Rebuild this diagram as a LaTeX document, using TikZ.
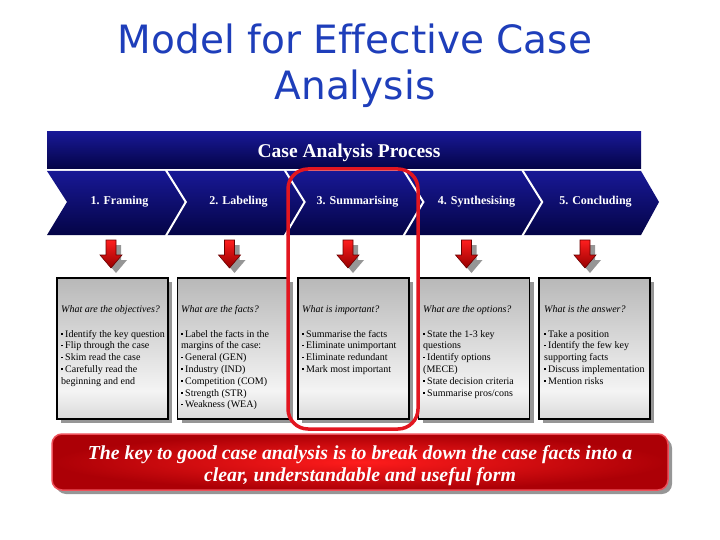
\documentclass[tikz,border=0pt]{standalone}
\usepackage{fontspec}
\setmainfont{Liberation Serif}
\newfontfamily\titlefont[Ligatures=NoCommon]{DejaVu Sans}
\usetikzlibrary{shadows}
\definecolor{titleblue}{RGB}{30,62,186}
\definecolor{navyA}{RGB}{24,24,150}
\definecolor{navyB}{RGB}{4,4,70}
\definecolor{boxtop}{RGB}{184,184,184}
\definecolor{boxmid}{RGB}{244,244,244}
\definecolor{boxbot}{RGB}{218,218,218}
\definecolor{hired}{RGB}{226,22,32}
\definecolor{banin}{RGB}{255,28,28}
\definecolor{banout}{RGB}{172,0,6}
\definecolor{banedge}{RGB}{238,80,90}
\definecolor{arrA}{RGB}{255,30,30}
\definecolor{arrB}{RGB}{150,0,0}
\definecolor{shad}{RGB}{150,150,150}
\pgfdeclareverticalshading{boxsh}{100bp}{color(0bp)=(boxbot); color(25bp)=(boxbot); color(35bp)=(boxmid); color(75bp)=(boxtop); color(100bp)=(boxtop)}
\newcommand\bl{\raisebox{2.4pt}{\rule{1.6pt}{1.6pt}}\hspace{2.4pt}}
\tikzset{
  titletxt/.style={font=\titlefont\fontsize{39}{47}\selectfont, text=titleblue, anchor=base, inner sep=0},
  hdrtxt/.style={font=\bfseries\fontsize{19.5}{21}\selectfont, text=white, inner sep=0},
  chevtxt/.style={font=\bfseries\fontsize{12}{14}\selectfont, text=white, inner sep=0},
  gbox/.style={draw=black, line width=1.8pt, shading=boxsh, minimum width=111, minimum height=141, inner sep=0,
    drop shadow={shadow xshift=4pt, shadow yshift=-4pt, fill=shad, opacity=1}},
  qtxt/.style={font=\itshape\fontsize{10}{12}\selectfont, anchor=base west, inner sep=0},
  btxt/.style={font=\fontsize{10}{12}\selectfont, anchor=base west, inner sep=0},
  hilite/.style={draw=hired, line width=3.5pt, rounded corners=20pt, minimum width=130, minimum height=260, inner sep=0},
  banner/.style={draw=banedge, line width=1.5pt, rounded corners=10pt, inner color=banin, outer color=banout,
    minimum width=616, minimum height=56, inner sep=0,
    drop shadow={shadow xshift=4pt, shadow yshift=-4pt, fill=shad, opacity=1}},
  bantxt/.style={text=white, align=center, inner sep=0, font=\bfseries\itshape\fontsize{19.8}{22}\selectfont},
  arrowshape/.style={top color=arrA, bottom color=arrB, draw=arrB!70!black, line width=0.6pt},
  arrowshadow/.style={fill=shad}
}
\newcommand\boxlines[4]{%
  \node[qtxt] (q#1) at (#2,312) {#3};
  \foreach \t [count=\k] in {#4} \node[btxt] (l#1-\k) at (#2,{337+11.8*(\k-1)}) {\t};
}
\begin{document}
\begin{tikzpicture}[x=1pt,y=-1pt]
\useasboundingbox (0,0) rectangle (720,540);
% title
\node[titletxt] (t1) at (355,54) {Model for Effective Case};
\node[titletxt] (t2) at (355,100) {Analysis};
% header
\shade[top color=navyA, bottom color=navyB] (47,132) rectangle (641,169);
\node[hdrtxt] (hdr) at (349,153) {Case Analysis Process};
% chevron band
\shade[top color=navyA, bottom color=navyB] (47,171) -- (641,171) -- (659,202) -- (641,235) -- (47,235) -- (67,202) -- cycle;
\foreach \k in {1,...,4} {
  \pgfmathsetmacro\dx{47+118.8*\k}
  \draw[white, line width=2pt] (\dx,170) -- ({\dx+20},202) -- (\dx,236);
}
\foreach \t [count=\k] in {1. Framing, 2. Labeling, 3. Summarising, 4. Synthesising, 5. Concluding}
  \node[chevtxt] (c\k) at ({119.5+119*(\k-1)},202) {\t};
% arrows
\foreach \k in {0,...,4} {
  \pgfmathsetmacro\cx{111+118.5*\k}
  \fill[arrowshadow, shift={(5,5)}] ({\cx-5},240) -- ({\cx+5},240) -- ({\cx+5},255) -- ({\cx+11},255) -- (\cx,268) -- ({\cx-11},255) -- ({\cx-5},255) -- cycle;
  \shade[arrowshape] ({\cx-5},240) -- ({\cx+5},240) -- ({\cx+5},255) -- ({\cx+11},255) -- (\cx,268) -- ({\cx-11},255) -- ({\cx-5},255) -- cycle;
}
% boxes
\foreach \k in {1,...,5}
  \node[gbox] (b\k) at ({112.5+120.5*(\k-1)},348.5) {};
\boxlines{1}{61}{What are the objectives?}{{\bl Identify the key question},{\bl Flip through the case},{\bl Skim read the case},{\bl Carefully read the},{beginning and end}}
\boxlines{2}{181}{What are the facts?}{{\bl Label the facts in the},{margins of the case:},{\bl General (GEN)},{\bl Industry (IND)},{\bl Competition (COM)},{\bl Strength (STR)},{\bl Weakness (WEA)}}
\boxlines{3}{302}{What is important?}{{\bl Summarise the facts},{\bl Eliminate unimportant},{\bl Eliminate redundant},{\bl Mark most important}}
\boxlines{4}{423}{What are the options?}{{\bl State the 1-3 key},{questions},{\bl Identify options},{(MECE)},{\bl State decision criteria},{\bl Summarise pros/cons}}
\boxlines{5}{544}{What is the answer?}{{\bl Take a position},{\bl Identify the few key},{supporting facts},{\bl Discuss implementation},{\bl Mention risks}}
% highlight
\node[hilite] (hl) at (353,299) {};
% banner
\node[banner] (ban) at (360,462) {};
\node[bantxt] (bant) at (360,465.5) {The key to good case analysis is to break down the case facts into a\\clear, understandable and useful form};
\end{tikzpicture}
\end{document}
